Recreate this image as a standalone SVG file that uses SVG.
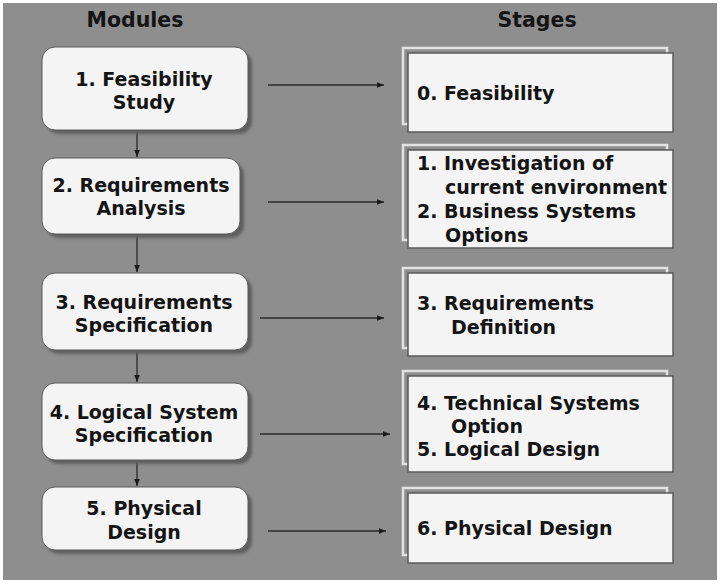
<svg xmlns="http://www.w3.org/2000/svg" width="720" height="584" viewBox="0 0 720 584">
<defs>
<marker id="ah" viewBox="0 0 10 10" refX="10" refY="5" markerWidth="7" markerHeight="7" markerUnits="userSpaceOnUse" orient="auto">
<path d="M0,1 L10,5 L0,9 z" fill="#1a1a1a"/>
</marker>
<filter id="sh" x="-10%" y="-10%" width="130%" height="130%">
<feGaussianBlur stdDeviation="1.5"/>
</filter>
<style>
.t{font-family:"DejaVu Sans",Verdana,sans-serif;font-weight:bold;font-size:19px;fill:#141414}
.h{font-family:"DejaVu Sans",Verdana,sans-serif;font-weight:bold;font-size:20.5px;fill:#141414}
.mb{fill:#f4f4f4;stroke:#5a5a5a;stroke-width:1}
.msh{fill:#5e5e5e;filter:url(#sh)}
.sb{fill:#f4f4f4;stroke:#5a5a5a;stroke-width:1.5}
.sback{fill:none;stroke:#e2e2e2;stroke-width:2.5}
.c{stroke:#2a2a2a;stroke-width:1.3;fill:none;marker-end:url(#ah)}
</style>
</defs>
<rect x="0" y="0" width="720" height="584" fill="#ffffff"/>
<rect x="3" y="3" width="714" height="577" fill="#8e8e8e"/>
<text class="h" x="135" y="27" text-anchor="middle">Modules</text>
<text class="h" x="537" y="27" text-anchor="middle">Stages</text>

<g id="connectors">
<line class="c" x1="137" y1="131" x2="137" y2="157"/>
<line class="c" x1="137" y1="235" x2="137" y2="272"/>
<line class="c" x1="137" y1="351" x2="137" y2="382"/>
<line class="c" x1="137" y1="461" x2="137" y2="486"/>
<line class="c" x1="268" y1="85" x2="384" y2="85"/>
<line class="c" x1="268" y1="202" x2="384" y2="202"/>
<line class="c" x1="260" y1="318" x2="384" y2="318"/>
<line class="c" x1="260" y1="434" x2="390" y2="434"/>
<line class="c" x1="268" y1="531" x2="386" y2="531"/>
</g>

<g id="m1">
<rect class="msh" x="46" y="51" width="206" height="83" rx="13"/>
<rect class="mb" x="42" y="47" width="206" height="83" rx="13"/>
<text class="t" x="144" y="86" text-anchor="middle">1. Feasibility</text>
<text class="t" x="144" y="109" text-anchor="middle">Study</text>
</g>
<g id="m2">
<rect class="msh" x="46" y="162" width="198" height="76" rx="13"/>
<rect class="mb" x="42" y="158" width="198" height="76" rx="13"/>
<text class="t" x="141" y="192" text-anchor="middle">2. Requirements</text>
<text class="t" x="141" y="215" text-anchor="middle">Analysis</text>
</g>
<g id="m3">
<rect class="msh" x="46" y="277" width="206" height="77" rx="13"/>
<rect class="mb" x="42" y="273" width="206" height="77" rx="13"/>
<text class="t" x="144" y="309" text-anchor="middle">3. Requirements</text>
<text class="t" x="144" y="332" text-anchor="middle">Specification</text>
</g>
<g id="m4">
<rect class="msh" x="46" y="387" width="206" height="77" rx="13"/>
<rect class="mb" x="42" y="383" width="206" height="77" rx="13"/>
<text class="t" x="144" y="419" text-anchor="middle">4. Logical System</text>
<text class="t" x="144" y="442" text-anchor="middle">Specification</text>
</g>
<g id="m5">
<rect class="msh" x="46" y="491" width="206" height="63" rx="13"/>
<rect class="mb" x="42" y="487" width="206" height="63" rx="13"/>
<text class="t" x="144" y="515" text-anchor="middle">5. Physical</text>
<text class="t" x="144" y="539" text-anchor="middle">Design</text>
</g>

<g id="s0">
<rect class="sback" x="403" y="48" width="264" height="76"/>
<rect class="sb" x="408" y="53" width="265" height="79"/>
<text class="t" x="417" y="100">0. Feasibility</text>
</g>
<g id="s12">
<rect class="sback" x="403" y="145" width="264" height="95"/>
<rect class="sb" x="408" y="150" width="265" height="98"/>
<text class="t" x="417" y="170">1. Investigation of</text>
<text class="t" x="445" y="194">current environment</text>
<text class="t" x="417" y="218">2. Business Systems</text>
<text class="t" x="445" y="242">Options</text>
</g>
<g id="s3">
<rect class="sback" x="403" y="268" width="264" height="80"/>
<rect class="sb" x="408" y="273" width="265" height="83"/>
<text class="t" x="417" y="310">3. Requirements</text>
<text class="t" x="451" y="334">Definition</text>
</g>
<g id="s45">
<rect class="sback" x="403" y="371" width="264" height="93"/>
<rect class="sb" x="408" y="376" width="265" height="96"/>
<text class="t" x="417" y="410">4. Technical Systems</text>
<text class="t" x="451" y="433">Option</text>
<text class="t" x="417" y="456">5. Logical Design</text>
</g>
<g id="s6">
<rect class="sback" x="403" y="488" width="264" height="67"/>
<rect class="sb" x="408" y="493" width="265" height="70"/>
<text class="t" x="417" y="535">6. Physical Design</text>
</g>
</svg>
